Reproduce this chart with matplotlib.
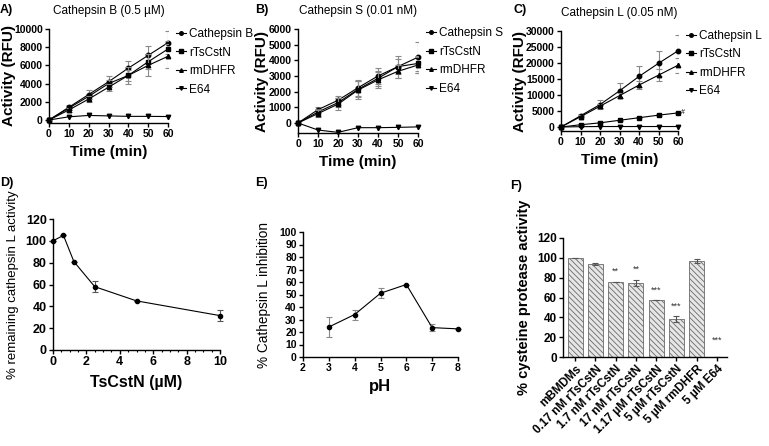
import numpy as np
import matplotlib
matplotlib.use("Agg")
from matplotlib import pyplot as plt

plt.rcParams['font.family'] = ['Liberation Sans', 'DejaVu Sans']
plt.rcParams['hatch.color'] = '#7a7a7a'
plt.rcParams['hatch.linewidth'] = 0.6

# ---- data ----
time_min = [0, 10, 20, 30, 40, 50, 60]

# A) Cathepsin B
catB = [0, 1400, 2800, 4200, 5700, 7100, 8500]
catB_err = [0, 300, 500, 600, 800, 1000, 1300]
catB_rTsCstN = [0, 1300, 2600, 4000, 4900, 6400, 7800]
catB_rTsCstN_err = [0, 200, 300, 400, 600, 800, 900]
catB_rmDHFR = [0, 1100, 2300, 3600, 4900, 6000, 7000]
catB_rmDHFR_err = [0, 200, 300, 400, 900, 1200, 1300]
catB_E64 = [0, 350, 500, 450, 400, 400, 380]

# B) Cathepsin S
catS = [0, 850, 1450, 2250, 3000, 3600, 4200]
catS_err = [0, 200, 300, 500, 500, 700, 1000]
catS_rTsCstN = [0, 700, 1300, 2150, 2850, 3600, 3800]
catS_rTsCstN_err = [0, 200, 300, 500, 500, 500, 500]
catS_rmDHFR = [0, 600, 1200, 2100, 2750, 3300, 3700]
catS_rmDHFR_err = [0, 200, 400, 600, 500, 400, 500]
catS_E64 = [0, -450, -600, -300, -300, -280, -250]

# C) Cathepsin L
catL = [0, 3500, 7000, 11300, 15800, 19900, 23800]
catL_err = [0, 500, 1500, 2300, 3200, 4000, 4800]
catL_rTsCstN = [0, 700, 1300, 2100, 2900, 3700, 4400]
catL_rTsCstN_err = [0, 100, 150, 200, 200, 250, 300]
catL_rmDHFR = [0, 3200, 6500, 9800, 13100, 16200, 19300]
catL_rmDHFR_err = [0, 400, 600, 800, 1300, 1800, 2300]
catL_E64 = [0, 100, 150, 150, 150, 150, 150]

# D) dose response
tscstn_um = [0, 0.625, 1.25, 2.5, 5, 10]
remaining = [100, 105, 81, 58, 45, 31.5]
remaining_err = [0, 0, 0, 5, 0, 5]

# E) pH
ph = [3, 4, 5, 6, 7, 8]
inhibition = [24, 34, 51, 58, 23.5, 22.5]
inhibition_err = [8, 4, 4, 0, 3, 0]

# F) cell lysate
f_labels = ['mBMDMs', '0.17 nM rTsCstN', '1.7 nM rTsCstN', '17 nM rTsCstN',
            '1.17 µM rTsCstN', '5 µM rTsCstN', '5 µM rmDHFR', '5 µM E64']
f_values = [100, 94, 76, 75, 57, 38, 96.5, 0]
f_err = [0, 1, 0, 3, 0, 3, 2, 0]
f_stars = ['', '', '**', '**', '***', '***', '', '***']

W, H = 769, 446
fig = plt.figure(figsize=(W / 100, H / 100), dpi=100)


def box(l, t, r, b):
    return [l / W, 1 - b / H, (r - l) / W, (b - t) / H]


def style(ax, size=8):
    for s in ['top', 'right']:
        ax.spines[s].set_visible(False)
    for s in ['left', 'bottom']:
        ax.spines[s].set_linewidth(1.0)
    ax.tick_params(direction='out', length=3, width=1, labelsize=size, pad=1.5)
    for t in ax.get_xticklabels() + ax.get_yticklabels():
        t.set_fontweight('bold')


def kinetics(ax, series, names, ylim, yticks, title, ylab_x):
    marks = ['o', 's', '^', 'v']
    for (y, e), name, m in zip(series, names, marks):
        if e is not None:
            ax.errorbar(time_min, y, yerr=e, fmt='none', ecolor='#8a8a8a',
                        elinewidth=0.8, capsize=2, capthick=0.8)
        ax.plot(time_min, y, color='black', lw=0.8, marker=m, ms=3.2,
                label=name, clip_on=False)
    ax.set_xlim(0, 60)
    ax.set_ylim(*ylim)
    ax.set_xticks(range(0, 61, 10))
    ax.set_yticks(yticks)
    ax.set_xlabel('Time (min)', fontsize=11, fontweight='bold', labelpad=4)
    ax.set_ylabel('Activity (RFU)', fontsize=11, fontweight='bold')
    ax.yaxis.set_label_coords(ylab_x, 0.5)
    ax.set_title(title, fontsize=8.5, fontweight='medium', pad=11)
    style(ax, 7.5)
    ax.legend(loc='upper left', bbox_to_anchor=(1.03, 1.06), frameon=False,
              fontsize=8.5, handlelength=0.8, handletextpad=0.3,
              labelspacing=0.55, borderaxespad=0, markerscale=0.8)


axA = fig.add_axes(box(49, 29, 168, 123))
kinetics(axA, [(catB, catB_err), (catB_rTsCstN, catB_rTsCstN_err),
               (catB_rmDHFR, catB_rmDHFR_err), (catB_E64, None)],
         ['Cathepsin B', 'rTsCstN', 'rmDHFR', 'E64'],
         (-330, 10000), range(0, 10001, 2000), 'Cathepsin B (0.5 µM)', -0.28)

axB = fig.add_axes(box(298, 29, 418, 133))
kinetics(axB, [(catS, catS_err), (catS_rTsCstN, catS_rTsCstN_err),
               (catS_rmDHFR, catS_rmDHFR_err), (catS_E64, None)],
         ['Cathepsin S', 'rTsCstN', 'rmDHFR', 'E64'],
         (-640, 6000), range(0, 6001, 1000), 'Cathepsin S (0.01 nM)', -0.24)

axC = fig.add_axes(box(561, 31, 678, 131))
kinetics(axC, [(catL, catL_err), (catL_rTsCstN, catL_rTsCstN_err),
               (catL_rmDHFR, catL_rmDHFR_err), (catL_E64, None)],
         ['Cathepsin L', 'rTsCstN', 'rmDHFR', 'E64'],
         (-1250, 30000), range(0, 30001, 5000), 'Cathepsin L (0.05 nM)', -0.29)
axC.text(61.5, catL_rTsCstN[-1], '#', fontsize=5, va='center')

# D
axD = fig.add_axes(box(53, 219, 220, 350))
axD.errorbar(tscstn_um, remaining, yerr=remaining_err, color='black', lw=0.8,
             marker='o', ms=3, ecolor='#555555', elinewidth=0.8, capsize=2,
             capthick=0.8, clip_on=False)
axD.set_xlim(0, 10)
axD.set_ylim(0, 120)
axD.set_xticks(range(0, 11, 2))
axD.set_xticks(np.arange(0, 10.1, 0.5), minor=True)
axD.set_yticks(range(0, 121, 20))
axD.tick_params(which='minor', length=1.5, width=0.8)
axD.set_xlabel('TsCstN (µM)', fontsize=11.5, fontweight='bold', labelpad=5)
axD.set_ylabel('% remaining cathepsin L activity', fontsize=9.5, labelpad=5)
style(axD, 9)

# E
axE = fig.add_axes(box(303, 232, 458, 357))
axE.errorbar(ph, inhibition, yerr=inhibition_err, color='black', lw=0.8,
             marker='o', ms=3, ecolor='#8a8a8a', elinewidth=0.8, capsize=2,
             capthick=0.8, clip_on=False)
axE.set_xlim(2, 8)
axE.set_ylim(0, 100)
axE.set_xticks(range(2, 9))
axE.set_yticks(range(0, 101, 10))
axE.set_xlabel('pH', fontsize=12, fontweight='bold', labelpad=4)
axE.set_ylabel('% Cathepsin L inhibition', fontsize=9.8, labelpad=6)
style(axE, 7.5)

# F
axF = fig.add_axes(box(563, 238, 727, 357))
xpos = np.arange(len(f_values))
axF.bar(xpos, f_values, width=0.74, color='#e6e6e6', edgecolor='#6a6a6a',
        linewidth=0.6, hatch='\\\\\\\\\\\\', yerr=f_err, ecolor='#555555',
        error_kw=dict(elinewidth=0.8, capsize=2, capthick=0.8))
for x, v, e, s in zip(xpos, f_values, f_err, f_stars):
    if s:
        axF.text(x, v + e + 6 if v > 0 else 12, s, ha='center', va='bottom',
                 fontsize=6.5, color='#333333')
axF.set_xlim(-0.6, 7.5)
axF.set_ylim(0, 120)
axF.set_yticks(range(0, 121, 20))
axF.set_xticks(xpos)
axF.set_xticklabels(f_labels, rotation=45, ha='right', rotation_mode='anchor')
axF.tick_params(axis='x', length=0)
axF.set_ylabel('% cysteine protease activity', fontsize=10.5, fontweight='bold',
               labelpad=4)
style(axF, 8.5)
for t in axF.get_xticklabels():
    t.set_fontsize(8.5)

# panel letters
for txt, x, y in [('A)', 0, 10), ('B)', 255, 10), ('C)', 513, 10),
                  ('D)', 0, 183), ('E)', 255, 183), ('F)', 510, 186)]:
    fig.text(x / W, 1 - y / H, txt, fontsize=9, fontweight='bold',
             va='center', ha='left')

fig.savefig('out.png', dpi=100)
